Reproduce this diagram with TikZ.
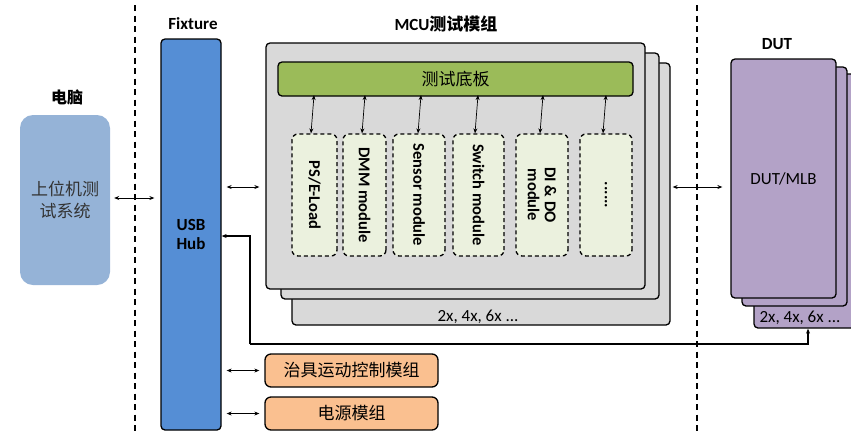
\documentclass[tikz,border=0pt]{standalone}
\usepackage{fontspec}
\setmainfont{Carlito}
\newfontfamily\cjk{Noto Sans CJK SC}
\usetikzlibrary{arrows.meta}
\definecolor{pcblue}{HTML}{95B3D7}
\definecolor{hubblue}{HTML}{558ED5}
\definecolor{mcugray}{HTML}{D9D9D9}
\definecolor{boardgreen}{HTML}{9BBB59}
\definecolor{modfill}{HTML}{EBF1DE}
\definecolor{dutpurple}{HTML}{B3A2C7}
\definecolor{orangefill}{HTML}{FAC090}
\tikzset{
  box/.style={draw=black, line width=1.3pt, rounded corners=4pt, inner sep=0pt},
  modbox/.style={draw=black, line width=1.3pt, dash pattern=on 4pt off 3pt, rounded corners=6pt, fill=modfill, inner sep=2pt, rotate=-90, font=\fontsize{16.5}{17}\selectfont\bfseries, align=center},
  biarr/.style={{Stealth[length=5pt,width=4pt]}-{Stealth[length=5pt,width=4pt]}, line width=0.7pt},
  fbarr/.style={-{Stealth[length=5pt,width=4pt]}, line width=1.1pt},
  sep/.style={line width=1.3pt, dash pattern=on 6pt off 4.5pt},
  title/.style={font=\fontsize{17}{19}\selectfont\bfseries},
  plain/.style={font=\fontsize{17}{19}\selectfont},
  cjktxt/.style={font=\cjk\fontsize{17}{22}\selectfont},
}
\begin{document}
\begin{tikzpicture}[x=1pt,y=-1pt]
\useasboundingbox (0,0) rectangle (851,432);
% separators
\draw[sep] (135,5) -- (135,432);
\draw[sep] (697,5) -- (697,432);
% PC
\node[font=\cjk\bfseries\fontsize{16}{18}\selectfont] (pclabel) at (67,97) {电脑};
\node[fill=pcblue, rounded corners=13pt, minimum width=90pt, minimum height=170pt, cjktxt, text=black!80, align=center] (pc) at (65,200) {上位机测\\试系统};
% Fixture
\node[title] (fixlabel) at (193,24) {Fixture};
\node[box, fill=hubblue, minimum width=60pt, minimum height=391pt, title, align=center] (hub) at (191,234.5) {USB\\Hub};
% MCU stack
\node[title] (mculabel) at (446,24) {MCU{\cjk 测试模组}};
\node[box, fill=mcugray, minimum width=378pt, minimum height=262pt] (mcu3) at (481,194) {};
\node[plain] (mcucount) at (478,317) {2x, 4x, 6x ...};
\node[box, fill=mcugray, minimum width=378pt, minimum height=246pt] (mcu2) at (470,176) {};
\node[box, fill=mcugray, minimum width=379pt, minimum height=246pt] (mcu1) at (455.5,166) {};
\node[box, fill=boardgreen, minimum width=355pt, minimum height=34pt, cjktxt] (board) at (455.5,79) {测试底板};
% modules (rotated: width = vertical extent)
\node[modbox, minimum width=122pt, minimum height=45pt] (m1) at (314.5,195) {PS/E-Load};
\node[modbox, minimum width=122pt, minimum height=43pt] (m2) at (364.5,195) {DMM module};
\node[modbox, minimum width=122pt, minimum height=52pt] (m3) at (419,195) {Sensor module};
\node[modbox, minimum width=122pt, minimum height=51pt] (m4) at (478.5,195) {Switch module};
\node[modbox, minimum width=122pt, minimum height=52pt] (m5) at (542,195) {DI \& DO\\module};
\node[modbox, minimum width=122pt, minimum height=52pt] (m6) at (606,195) {......};
\foreach \m/\x in {m1/314,m2/365,m3/421,m4/478,m5/543,m6/606}{
  \draw[biarr] ([yshift=1.5pt]board.south -| \x,0) -- ([xshift=-3pt]\m.west -| \x,0);
}
% DUT stack
\node[title] (dutlabel) at (777,44) {DUT};
\node[box, fill=dutpurple, minimum width=105pt, minimum height=254pt] (dut3) at (806.5,201) {};
\node[plain] (dutcount) at (800,318) {2x, 4x, 6x ...};
\node[box, fill=dutpurple, minimum width=105pt, minimum height=239pt] (dut2) at (794.5,186.5) {};
\node[box, fill=dutpurple, minimum width=105pt, minimum height=239pt, plain] (dut1) at (783.5,178.5) {DUT/MLB};
% orange boxes
\node[box, fill=orangefill, rounded corners=6pt, minimum width=173pt, minimum height=33pt, cjktxt] (motion) at (351.5,370.5) {治具运动控制模组};
\node[box, fill=orangefill, rounded corners=6pt, minimum width=173pt, minimum height=33pt, cjktxt] (power) at (351.5,413.5) {电源模组};
% connectors
\draw[biarr] ([xshift=4pt]pc.east |- 0,198) -- ([xshift=-6pt]hub.west |- 0,198);
\draw[biarr] ([xshift=5pt]hub.east |- 0,187) -- ([xshift=-6pt]mcu1.west |- 0,187);
\draw[biarr] ([xshift=2pt]mcu3.east |- 0,187) -- ([xshift=-8pt]dut1.west |- 0,187);
\draw[biarr] ([xshift=5pt]hub.east |- motion.west) -- ([xshift=-5pt]motion.west);
\draw[biarr] ([xshift=5pt]hub.east |- power.west) -- ([xshift=-5pt]power.west);
\coordinate (fbL) at (250,344);
\coordinate (fbR) at (808,344);
\draw[fbarr] (fbL) -- (fbL |- 0,236) -- (hub.east |- 0,236);
\draw[fbarr] (fbL) -- (fbR) -- (fbR |- dut3.south);
\end{tikzpicture}
\end{document}
